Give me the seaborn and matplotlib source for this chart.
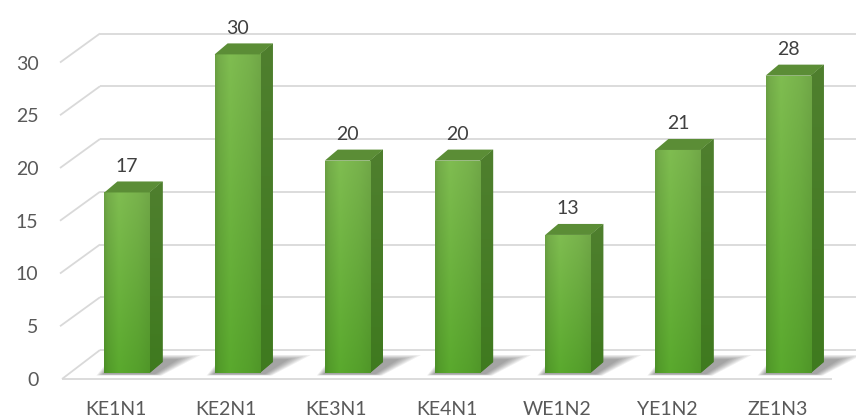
import numpy as np
import matplotlib
matplotlib.use("Agg")
import matplotlib.pyplot as plt
import seaborn as sns
import pandas as pd
from matplotlib.patches import Polygon
from matplotlib.colors import to_rgb

categories = ["KE1N1", "KE2N1", "KE3N1", "KE4N1", "WE1N2", "YE1N2", "ZE1N3"]
values = [17, 30, 20, 20, 13, 21, 28]
yticks = [0, 5, 10, 15, 20, 25, 30]

sns.set_theme(style="white")
plt.rcParams['font.family'] = ['Lato', 'DejaVu Sans']

W, H = 856, 417
fig = plt.figure(figsize=(W / 100, H / 100), dpi=100)
L, R, T, B = 62, 856, 0, 379
ax = fig.add_axes([L / W, (H - B) / H, (R - L) / W, (B - T) / H])

df = pd.DataFrame({"cat": categories, "val": values})
sns.barplot(data=df, x="cat", y="val", width=0.41, color="#68aa3c",
            saturation=1, ax=ax, zorder=3)

# pixel geometry of the pseudo-3D projection
PXC = 110.2      # px per category
C0 = 127.0       # px of first category centre
PXV = 10.62      # px per value unit (bar plane)
Y0 = 373.0       # px of value 0 in bar plane
ax.set_xlim((L - C0) / PXC, (R - C0) / PXC)
ax.set_ylim(-(B - Y0) / PXV, (Y0 - T) / PXV)

def dxu(px):
    return px / PXC

def dyu(px):
    return px / PXV

def xpx(px):
    return (px - C0) / PXC

def tick_y(v):
    # front plane of the floor/labels (slightly different perspective scale)
    return (v * 10.55 - 6.0) / PXV

grid_c = "#d9d9d9"
glw = 1.3
for v in yticks:
    fy = tick_y(v)
    x_start = 62 if v == 0 else 60
    by = fy + dyu(29)
    ax.plot([xpx(x_start), xpx(100)], [fy, by], color=grid_c, lw=glw,
            zorder=0.5, clip_on=False, solid_capstyle="butt")
    ax.plot([xpx(100), xpx(860)], [by, by], color=grid_c, lw=glw,
            zorder=0.5, clip_on=False, solid_capstyle="butt")
ax.plot([xpx(62), xpx(832)], [tick_y(0), tick_y(0)], color=grid_c, lw=glw,
        zorder=0.5, clip_on=False, solid_capstyle="butt")

# 3D decoration of bars
ddx, ddy = dxu(13), dyu(11)
top_c = np.array(to_rgb("#78b24c"))
bot_c = np.array(to_rgb("#55a02b"))
side_top = np.array(to_rgb("#4f7f2e"))
side_bot = np.array(to_rgb("#3f7a1f"))
lid_c = "#5b8d36"

nx = 40
xs = np.linspace(0, 1, nx)
hf = np.interp(xs, [0, 0.08, 0.32, 0.75, 1.0], [0.90, 0.97, 1.06, 1.0, 0.94])

for p, v in zip(list(ax.patches), values):
    xl = p.get_x()
    w = p.get_width()
    h = p.get_height()
    xr = xl + w
    p.set_edgecolor("none")
    # soft shadow on floor
    for k in range(7):
        s = 1 - k * 0.14
        shp = Polygon([
            (xl - dxu(8 * s), -dyu(1 + 1.5 * s)),
            (xr + dxu(4 + 8 * s), -dyu(1 + 1.5 * s)),
            (xr + ddx + dxu(12 + 26 * s), ddy + dyu(2 + 5 * s)),
            (xl + ddx - dxu(4 * s), ddy + dyu(2 + 5 * s)),
        ], closed=True, facecolor="#303030", edgecolor="none",
            alpha=0.075, zorder=1)
        ax.add_patch(shp)
    # front face gradient
    ny = 60
    ys = np.linspace(1, 0, ny)[:, None]
    vert = bot_c[None, None, :] + (top_c - bot_c)[None, None, :] * ys[:, :, None]
    img = np.clip(vert * hf[None, :, None], 0, 1)
    im = ax.imshow(img, extent=[xl, xr, 0, h], aspect="auto",
                   interpolation="bilinear", zorder=3.1)
    im.set_clip_path(p)
    # side face
    side = Polygon([(xr, 0), (xr, h), (xr + ddx, h + ddy), (xr + ddx, ddy)],
                   closed=True, facecolor="#477d27", edgecolor="none", zorder=3)
    ax.add_patch(side)
    simg = side_bot[None, None, :] + (side_top - side_bot)[None, None, :] * ys[:, :, None]
    simg = np.repeat(simg, 2, axis=1)
    sim = ax.imshow(simg, extent=[xr, xr + ddx, 0, h + ddy], aspect="auto",
                    interpolation="bilinear", zorder=3.05)
    sim.set_clip_path(side)
    # top face
    lid = Polygon([(xl, h), (xr, h), (xr + ddx, h + ddy), (xl + ddx, h + ddy)],
                  closed=True, facecolor=lid_c, edgecolor="none", zorder=3.2)
    ax.add_patch(lid)
    ax.text(xl + w / 2, h + dyu(26), f"{v}", ha="center", va="center",
            fontsize=14, color="#404040", zorder=5)

ax.set_xlim((L - C0) / PXC, (R - C0) / PXC)
ax.set_ylim(-(B - Y0) / PXV, (Y0 - T) / PXV)
ax.set_aspect("auto")

ax.set_yticks([tick_y(v) for v in yticks], [str(v) for v in yticks])
ax.set_xticks([i - dxu(11) for i in range(len(categories))], categories)
ax.tick_params(axis="y", length=0, pad=17, labelsize=14, labelcolor="#595959")
ax.tick_params(axis="x", length=0, pad=16, labelsize=14, labelcolor="#595959")
ax.set_xlabel("")
ax.set_ylabel("")
for s in ax.spines.values():
    s.set_visible(False)
ax.grid(False)
ax.patch.set_alpha(0)

fig.savefig("out.png", dpi=100)
